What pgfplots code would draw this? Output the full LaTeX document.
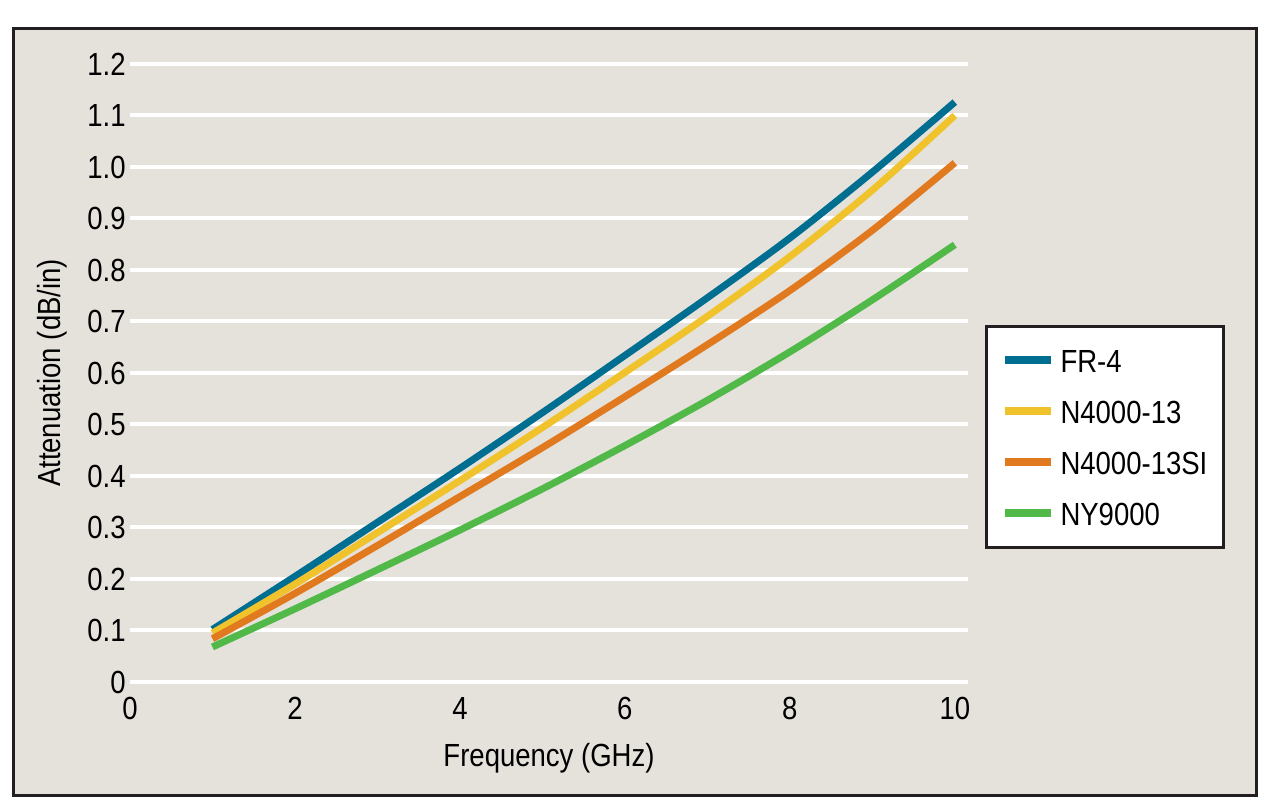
\documentclass[border=0pt]{standalone}
\usepackage{pgfplots}
\pgfplotsset{compat=1.18}
\usepackage{fontspec}
\setmainfont{Liberation Sans}[FakeStretch=0.86]

\definecolor{bgbeige}{RGB}{229,225,219}
\definecolor{frameblack}{RGB}{35,31,32}
\definecolor{frblue}{RGB}{0,110,145}
\definecolor{nyellow}{RGB}{240,195,45}
\definecolor{norange}{RGB}{225,122,30}
\definecolor{nygreen}{RGB}{80,185,72}

\begin{document}
\begin{tikzpicture}
\useasboundingbox (0pt,0pt) rectangle (641.5pt,406pt);
\fill[white] (0pt,0pt) rectangle (641.5pt,406pt);
\draw[frameblack, line width=1.5pt, fill=bgbeige] (6.75pt,8.25pt) rectangle (628.25pt,391.75pt);

\begin{axis}[
    at={(65pt,65pt)}, anchor=south west,
    scale only axis,
    width=419pt, height=309pt,
    xmin=0, xmax=10.16,
    ymin=0, ymax=1.2,
    axis line style={draw=none},
    tick style={draw=none},
    xtick={0,2,4,6,8,10},
    ytick={0,0.1,...,1.2},
    yticklabels={0,0.1,0.2,0.3,0.4,0.5,0.6,0.7,0.8,0.9,1.0,1.1,1.2},
    ymajorgrids,
    grid style={white, line width=2pt},
    /pgf/number format/assume math mode=true,
    font=\fontsize{16}{19}\selectfont,
    xticklabel style={inner sep=0pt, yshift=-7.5pt},
    yticklabel style={inner sep=0pt, xshift=-2pt},
    xlabel={Frequency (GHz)},
    ylabel={Attenuation (dB/in)},
    xlabel style={at={(axis description cs:0.5,-0.1375)}, anchor=base},
    ylabel style={at={(axis description cs:-0.0835,0.5)}, anchor=base},
    legend style={
        at={(axis description cs:1.0203,0.5777)}, anchor=north west,
        fill=white, draw=frameblack, line width=1.5pt,
        inner xsep=7pt, inner ysep=10pt, row sep=11.5pt,
        nodes={inner sep=1pt, text height=12pt, text depth=0pt, anchor=west},
        /tikz/every odd column/.append style={column sep=2pt},
        font=\fontsize{16}{19}\selectfont,
    },
    legend cell align=left,
    legend image code/.code={\draw[#1, line width=4pt] (0pt,0pt) -- (23pt,0pt);},
]
\addplot[frblue, line width=3.5pt, smooth] coordinates {
    (1,0.102) (2,0.205) (3,0.310) (4,0.415) (5,0.523) (6,0.634) (7,0.746) (8,0.862) (9,0.990) (10,1.126)};
\addlegendentry{FR-4}
\addplot[nyellow, line width=3.5pt, smooth] coordinates {
    (1,0.095) (2,0.190) (3,0.290) (4,0.391) (5,0.494) (6,0.601) (7,0.710) (8,0.826) (9,0.955) (10,1.100)};
\addlegendentry{N4000-13}
\addplot[norange, line width=3.5pt, smooth] coordinates {
    (1,0.084) (2,0.172) (3,0.265) (4,0.360) (5,0.455) (6,0.554) (7,0.655) (8,0.760) (9,0.877) (10,1.008)};
\addlegendentry{N4000-13SI}
\addplot[nygreen, line width=3.5pt, smooth] coordinates {
    (1,0.068) (2,0.142) (3,0.218) (4,0.295) (5,0.375) (6,0.459) (7,0.547) (8,0.641) (9,0.742) (10,0.849)};
\addlegendentry{NY9000}
\end{axis}
\end{tikzpicture}
\end{document}
